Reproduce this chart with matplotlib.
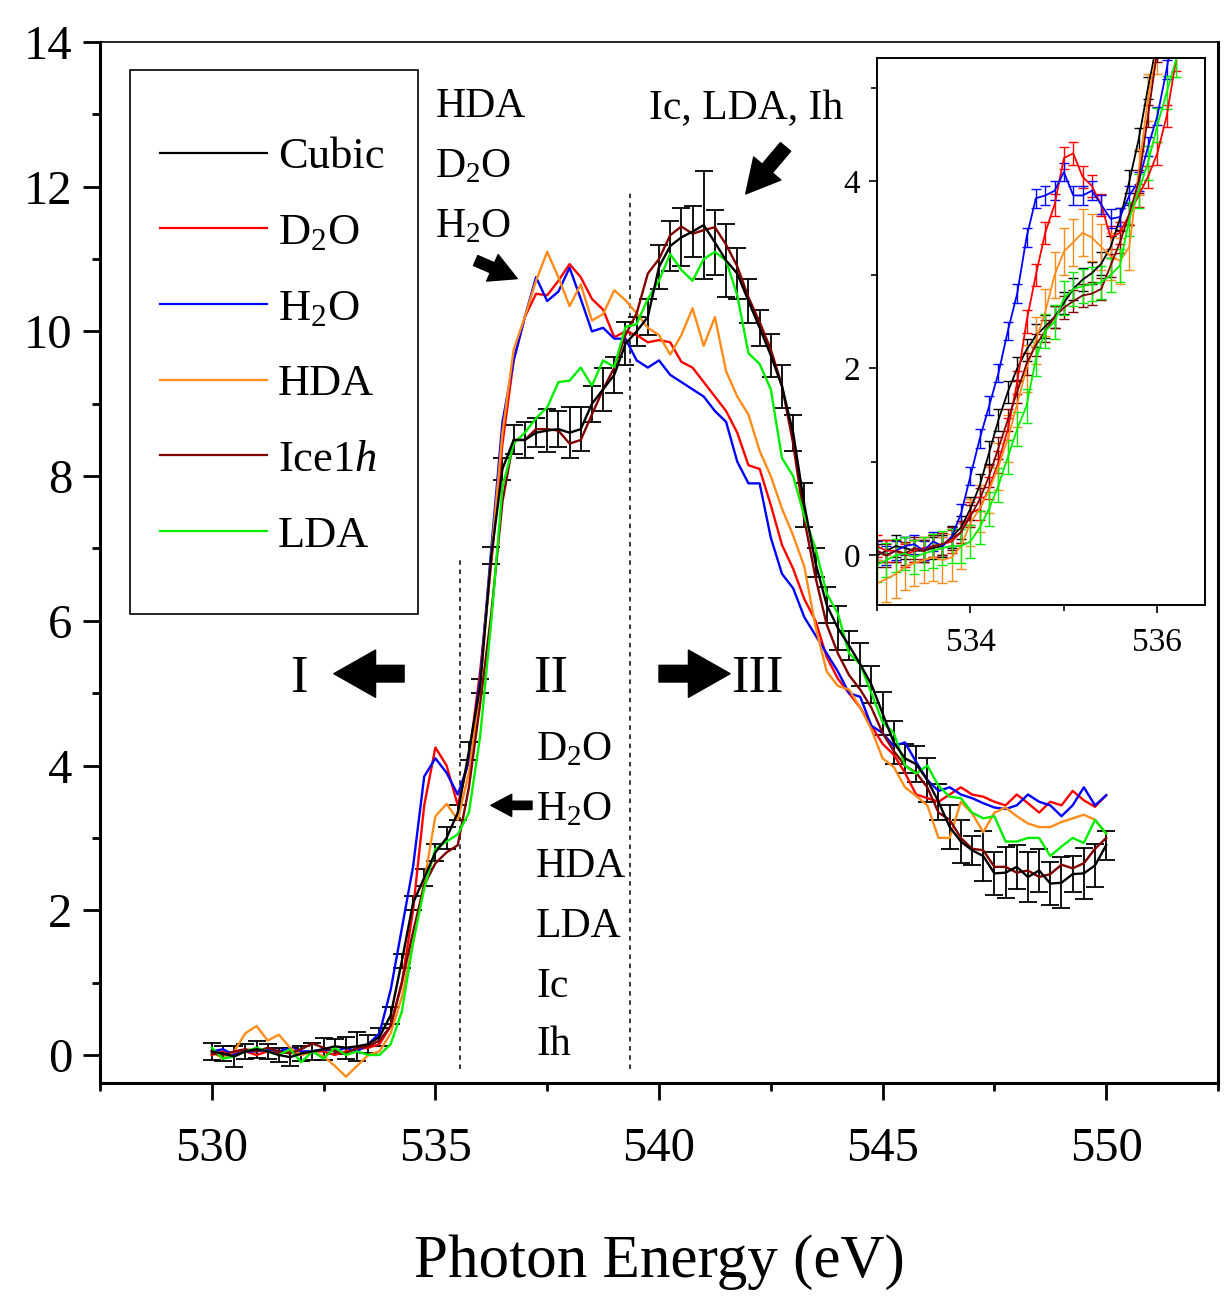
import numpy as np
import matplotlib
matplotlib.use("Agg")
import matplotlib.pyplot as plt
from matplotlib.lines import Line2D
from matplotlib.patches import Rectangle
from matplotlib.ticker import MultipleLocator, FixedLocator

plt.rcParams["font.family"] = ["Liberation Serif", "DejaVu Serif"]
plt.rcParams["mathtext.fontset"] = "custom"
plt.rcParams["mathtext.rm"] = "Liberation Serif"
plt.rcParams["mathtext.it"] = "Liberation Serif:italic"

# main panel: photon energy grid (eV), 530 -> 550 in 0.25 eV steps
energy = 530.0 + 0.25 * np.arange(81)

cubic = [0.05, 0.02, -0.02, 0.05, 0.08, 0.05, 0.00, -0.03, 0.02, 0.05,
         0.08, 0.12, 0.10, 0.12, 0.15, 0.25, 0.55, 1.30, 2.10, 2.45,
         2.80, 3.00, 3.35, 4.20, 5.10, 6.90, 8.10, 8.50, 8.50, 8.60,
         8.63, 8.65, 8.60, 8.65, 9.00, 9.20, 9.40, 9.83, 10.00, 10.20,
         10.89, 11.18, 11.30, 11.38, 11.47, 11.23, 10.98, 10.80, 10.42, 10.05,
         9.67, 9.24, 8.60, 7.60, 6.80, 6.22, 5.90, 5.66, 5.40, 5.12,
         4.72, 4.32, 4.10, 4.02, 3.80, 3.50, 3.15, 2.95, 2.83, 2.75,
         2.51, 2.52, 2.60, 2.46, 2.55, 2.37, 2.38, 2.50, 2.51, 2.62,
         2.90]
cubic_err = [0.12, 0.10, 0.15, 0.10, 0.12, 0.10, 0.10, 0.12, 0.10, 0.12,
             0.15, 0.10, 0.15, 0.20, 0.12, 0.12, 0.12, 0.10, 0.10, 0.12,
             0.12, 0.15, 0.10, 0.12, 0.10, 0.12, 0.15, 0.20, 0.25, 0.20,
             0.30, 0.25, 0.35, 0.30, 0.25, 0.30, 0.25, 0.30, 0.20, 0.25,
             0.30, 0.35, 0.40, 0.35, 0.75, 0.45, 0.50, 0.35, 0.30, 0.25,
             0.30, 0.30, 0.25, 0.30, 0.20, 0.25, 0.30, 0.20, 0.30, 0.25,
             0.30, 0.30, 0.20, 0.25, 0.30, 0.25, 0.30, 0.30, 0.20, 0.35,
             0.30, 0.35, 0.30, 0.35, 0.30, 0.30, 0.35, 0.25, 0.35, 0.30,
             0.20]
d2o = [0.00, 0.05, 0.02, 0.05, 0.00, 0.05, 0.02, 0.05, 0.00, 0.05,
       0.05, 0.00, 0.05, 0.08, 0.10, 0.15, 0.40, 1.00, 2.00, 3.45,
       4.25, 4.00, 3.45, 4.10, 5.30, 6.80, 8.45, 9.60, 10.20, 10.52,
       10.50, 10.70, 10.93, 10.75, 10.45, 10.30, 9.92, 10.00, 9.95, 9.85,
       9.88, 9.85, 9.58, 9.50, 9.30, 9.10, 8.90, 8.60, 8.15, 8.10,
       7.60, 7.05, 6.72, 6.30, 6.00, 5.50, 5.20, 5.00, 4.80, 4.55,
       4.30, 4.15, 3.90, 3.60, 3.55, 3.50, 3.60, 3.70, 3.60, 3.57,
       3.50, 3.45, 3.60, 3.48, 3.35, 3.50, 3.45, 3.65, 3.52, 3.43,
       3.59]
h2o = [0.05, 0.08, 0.00, 0.05, 0.05, 0.08, 0.05, 0.10, 0.05, 0.05,
       0.08, 0.05, 0.10, 0.05, 0.15, 0.30, 0.90, 1.75, 2.60, 3.85,
       4.10, 3.90, 3.60, 4.05, 5.20, 7.00, 8.75, 9.60, 10.20, 10.75,
       10.42, 10.55, 10.88, 10.45, 10.00, 10.05, 9.90, 9.90, 9.60, 9.50,
       9.60, 9.40, 9.30, 9.20, 9.10, 8.90, 8.75, 8.20, 7.90, 7.90,
       7.15, 6.65, 6.45, 6.05, 5.80, 5.55, 5.30, 5.00, 4.95, 4.55,
       4.45, 4.27, 4.32, 4.05, 3.80, 3.65, 3.70, 3.60, 3.55, 3.48,
       3.42, 3.40, 3.45, 3.60, 3.50, 3.45, 3.30, 3.45, 3.70, 3.45,
       3.59]
hda = [0.05, -0.05, 0.05, 0.30, 0.40, 0.20, 0.28, 0.10, 0.00, 0.05,
       -0.02, -0.15, -0.30, -0.15, 0.00, 0.05, 0.30, 0.80, 1.55, 2.40,
       3.30, 3.47, 3.25, 3.90, 5.10, 6.90, 8.60, 9.75, 10.20, 10.70,
       11.10, 10.75, 10.35, 10.65, 10.15, 10.24, 10.57, 10.43, 10.25, 10.05,
       9.95, 9.68, 9.95, 10.32, 9.80, 10.20, 9.45, 9.10, 8.85, 8.35,
       8.00, 7.55, 7.18, 6.75, 5.92, 5.30, 5.10, 5.05, 4.80, 4.50,
       4.10, 3.98, 3.70, 3.58, 3.45, 3.00, 3.00, 3.50, 3.34, 3.08,
       3.35, 3.42, 3.30, 3.20, 3.15, 3.15, 3.22, 3.27, 3.32, 3.25,
       3.06]
ice1h = [0.02, 0.00, 0.05, 0.08, 0.05, 0.10, 0.05, 0.02, 0.08, 0.16,
         0.10, 0.05, 0.02, 0.10, 0.12, 0.20, 0.40, 1.00, 1.70, 2.35,
         2.65, 2.80, 2.90, 3.70, 4.85, 6.10, 7.65, 8.50, 8.50, 8.65,
         8.65, 8.63, 8.45, 8.50, 8.85, 9.20, 9.50, 9.95, 10.25, 10.80,
         11.00, 11.33, 11.45, 11.35, 11.40, 11.44, 11.20, 10.90, 10.47, 10.13,
         9.75, 9.25, 8.45, 7.40, 6.60, 5.95, 5.55, 5.25, 5.05, 4.80,
         4.45, 4.20, 4.00, 3.90, 3.70, 3.35, 3.25, 3.00, 2.85, 2.83,
         2.60, 2.60, 2.52, 2.55, 2.46, 2.50, 2.63, 2.58, 2.65, 2.85,
         3.00]
lda = [0.10, -0.05, -0.02, 0.05, 0.10, 0.05, 0.00, 0.08, -0.10, 0.05,
       -0.05, 0.10, 0.00, 0.05, 0.00, 0.00, 0.15, 0.60, 1.55, 2.30,
       2.85, 2.95, 3.05, 3.35, 4.40, 6.00, 7.85, 8.45, 8.60, 8.80,
       8.95, 9.30, 9.32, 9.50, 9.25, 9.60, 9.51, 10.06, 10.10, 10.45,
       10.70, 11.07, 10.85, 10.70, 11.00, 11.10, 10.98, 10.50, 9.70, 9.55,
       9.20, 8.25, 8.00, 7.45, 7.00, 6.38, 6.10, 5.55, 5.40, 5.00,
       4.60, 4.45, 4.00, 3.89, 4.00, 3.72, 3.57, 3.55, 3.35, 3.27,
       3.30, 2.95, 2.95, 3.00, 3.00, 2.75, 2.88, 3.00, 2.93, 3.25,
       3.06]

# inset: pre-edge region, 533.0 -> 536.5 in 0.1 eV steps
inset_energy = 533.0 + 0.1 * np.arange(36)
in_cubic = [0.00, 0.05, 0.10, 0.08, 0.05, 0.05, 0.08, 0.10, 0.20, 0.30,
            0.50, 0.75, 1.10, 1.45, 1.75, 2.00, 2.20, 2.35, 2.45, 2.55,
            2.70, 2.85, 2.95, 3.02, 3.12, 3.30, 3.60, 4.00, 4.45, 5.00,
            5.50, 6.10, 6.70, 7.30, 7.80, 8.20]
in_d2o = [0.10, 0.05, 0.05, 0.00, 0.05, 0.08, 0.10, 0.12, 0.15, 0.25,
          0.45, 0.50, 0.72, 1.00, 1.35, 1.85, 2.50, 3.00, 3.45, 3.75,
          4.25, 4.30, 4.05, 3.95, 3.75, 3.40, 3.45, 3.65, 3.85, 4.05,
          4.30, 4.70, 5.30, 6.00, 6.80, 7.60]
in_h2o = [0.05, 0.00, 0.05, 0.10, 0.12, 0.05, 0.15, 0.10, 0.20, 0.45,
          0.85, 1.25, 1.60, 1.95, 2.40, 2.80, 3.40, 3.82, 3.85, 3.90,
          4.10, 3.85, 3.85, 3.90, 3.75, 3.60, 3.62, 3.85, 4.00, 4.37,
          4.70, 5.20, 5.80, 6.50, 7.20, 8.00]
in_hda = [-0.30, -0.25, -0.20, -0.12, -0.08, -0.05, -0.02, -0.05, -0.02, 0.10,
          0.35, 0.50, 0.70, 0.95, 1.25, 1.62, 2.00, 2.30, 2.60, 3.00,
          3.25, 3.35, 3.45, 3.40, 3.30, 3.20, 3.15, 3.30, 4.10, 4.90,
          5.40, 5.90, 6.40, 7.00, 7.60, 8.20]
in_ice1h = [0.05, 0.00, 0.05, 0.02, 0.08, 0.05, 0.10, 0.12, 0.18, 0.25,
            0.42, 0.60, 0.85, 1.15, 1.45, 1.75, 2.05, 2.25, 2.40, 2.55,
            2.65, 2.72, 2.78, 2.80, 2.85, 3.10, 3.35, 3.65, 4.00, 4.70,
            5.40, 6.00, 6.60, 7.20, 7.70, 8.10]
in_lda = [-0.10, -0.05, 0.00, 0.02, -0.02, 0.02, 0.05, 0.08, 0.10, 0.10,
          0.15, 0.30, 0.50, 0.75, 1.05, 1.35, 1.60, 2.10, 2.40, 2.50,
          2.75, 2.85, 2.88, 2.90, 2.92, 3.00, 3.10, 3.60, 3.90, 4.20,
          4.60, 4.95, 5.30, 5.80, 6.40, 7.00]
inset_err = {"Cubic": 0.12, "D2O": 0.12, "H2O": 0.10,
             "HDA": 0.25, "Ice1h": 0.12, "LDA": 0.18}

labels = ["Cubic", r"D$_\mathregular{2}$O", r"H$_\mathregular{2}$O",
          "HDA", r"Ice1$\mathit{h}$", "LDA"]
keys = ["Cubic", "D2O", "H2O", "HDA", "Ice1h", "LDA"]
colors = ["#000000", "#ff0000", "#0000ff", "#ff8c1a", "#800000", "#00ee00"]
main_series = [cubic, d2o, h2o, hda, ice1h, lda]
inset_series = [in_cubic, in_d2o, in_h2o, in_hda, in_ice1h, in_lda]

W, H = 1225, 1303
fig = plt.figure(figsize=(W / 100, H / 100), dpi=100)
ax = fig.add_axes([100 / W, 1 - 1083 / H, 1118 / W, 1041 / H])

ax.errorbar(energy, cubic, yerr=cubic_err, color=colors[0], lw=1.7,
            elinewidth=1.3, capsize=6.5, capthick=1.3, zorder=3)
for ys, c in zip(main_series[1:], colors[1:]):
    ax.plot(energy, ys, color=c, lw=1.7, zorder=3)

ax.set_xlim(527.5, 552.5)
ax.set_ylim(-0.387, 14)
ax.xaxis.set_major_locator(FixedLocator([530, 535, 540, 545, 550]))
ax.xaxis.set_minor_locator(MultipleLocator(2.5))
ax.yaxis.set_major_locator(MultipleLocator(2))
ax.yaxis.set_minor_locator(MultipleLocator(1))
ax.tick_params(which="major", direction="out", length=12, width=2,
               labelsize=35, top=False, right=False)
ax.tick_params(which="minor", direction="out", length=6, width=2,
               top=False, right=False)
ax.tick_params(axis="x", which="major", pad=20)
ax.tick_params(axis="y", which="major", pad=8)
for side in ["left", "bottom", "right"]:
    ax.spines[side].set_linewidth(2.2)
ax.spines["top"].set_linewidth(1.2)

ax.set_xlabel("Photon Energy (eV)", fontsize=44)
ax.xaxis.label.set_va("center")
ax.xaxis.set_label_coords(0.5, -0.172)

# legend with a hand-sized frame
handles = [Line2D([], [], color=c, lw=1.6) for c in colors]
ax.legend(handles, labels, loc="upper left", bbox_to_anchor=(0.0537, 0.9085),
          frameon=False, fontsize=32, handlelength=2.4, handletextpad=0.25,
          labelspacing=0.8, borderpad=0, borderaxespad=0)
ax.add_patch(Rectangle((0.0268, 0.4505), 0.2576, 0.5226, transform=ax.transAxes,
                       fill=False, lw=1.2, ec="k", zorder=4))

# region dividers
ax.vlines([535.55], -0.2, 6.9, colors="k", linestyles=(0, (3, 3)), lw=1.1)
ax.vlines([539.35], -0.2, 11.92, colors="k", linestyles=(0, (3, 3)), lw=1.1)

txt = dict(fontsize=30, va="center", ha="left")
ax.text(535.0, 13.1, "HDA", **txt)
ax.text(535.0, 12.27, r"D$_\mathregular{2}$O", **txt)
ax.text(535.0, 11.44, r"H$_\mathregular{2}$O", **txt)
ax.text(539.78, 13.07, "Ic, LDA, Ih", **txt)
for lab, yv in zip([r"D$_\mathregular{2}$O", r"H$_\mathregular{2}$O", "HDA",
                    "LDA", "Ic", "Ih"], [4.21, 3.38, 2.60, 1.77, 0.94, 0.14]):
    ax.text(537.25, yv, lab, **txt)

roman = dict(fontsize=38, va="center", ha="center")
ax.text(531.95, 5.2, "I", **roman)
ax.text(537.58, 5.2, "II", **roman)
ax.text(542.21, 5.2, "III", **roman)

big = dict(arrowstyle="simple,head_length=1.5,head_width=1.7,tail_width=0.6",
           fc="k", ec="k", mutation_scale=20, shrinkA=0, shrinkB=0)
small = dict(arrowstyle="simple,head_length=1.5,head_width=1.6,tail_width=0.6",
             fc="k", ec="k", mutation_scale=10, shrinkA=0, shrinkB=0)
ax.annotate("", xy=(532.73, 5.27), xytext=(534.3, 5.27), arrowprops=big)
ax.annotate("", xy=(541.59, 5.27), xytext=(540.0, 5.27), arrowprops=big)
ax.annotate("", xy=(536.24, 3.45), xytext=(537.16, 3.45), arrowprops=small)
ax.annotate("", xy=(536.83, 10.73), xytext=(535.9, 10.98),
            arrowprops=dict(small, mutation_scale=13))
ax.annotate("", xy=(541.94, 11.9), xytext=(542.83, 12.55),
            arrowprops=dict(small, mutation_scale=16))

# inset
axi = fig.add_axes([877 / W, 1 - 605 / H, 328 / W, 547 / H])
for k, ys, c in zip(keys, inset_series, colors):
    axi.errorbar(inset_energy, ys, yerr=inset_err[k], color=c, lw=1.3,
                 elinewidth=1.0, capsize=3.5, capthick=1.0)
axi.set_xlim(533.0, 536.51)
axi.set_ylim(-0.53, 5.32)
axi.xaxis.set_major_locator(FixedLocator([534, 536]))
axi.xaxis.set_minor_locator(FixedLocator([533, 535]))
axi.yaxis.set_major_locator(FixedLocator([0, 2, 4]))
axi.yaxis.set_minor_locator(FixedLocator([1, 3, 5]))
axi.tick_params(which="both", direction="out", width=1.2, labelsize=24,
                top=False, right=False)
axi.tick_params(which="major", length=6)
axi.tick_params(which="minor", length=4)
axi.tick_params(axis="x", pad=10)
axi.tick_params(axis="y", pad=6)
for side in axi.spines:
    axi.spines[side].set_linewidth(1.4)

fig.savefig("out.png", dpi=100)
